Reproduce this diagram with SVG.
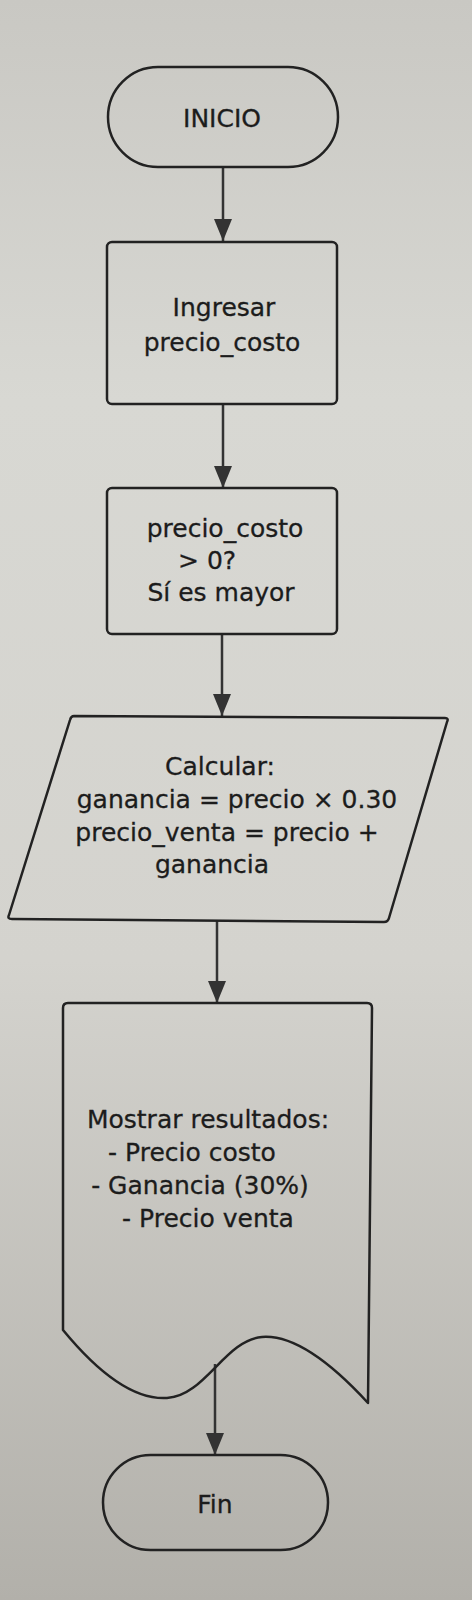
<svg xmlns="http://www.w3.org/2000/svg" width="472" height="1600" viewBox="0 0 472 1600">
<defs>
<linearGradient id="bg" x1="0" y1="0" x2="0" y2="1">
<stop offset="0" stop-color="#c9c8c3"/>
<stop offset="0.25" stop-color="#d8d8d3"/>
<stop offset="0.6" stop-color="#d4d3ce"/>
<stop offset="1" stop-color="#b2b0aa"/>
</linearGradient>
<marker id="arr" viewBox="0 0 22 18" refX="22" refY="9" markerWidth="22" markerHeight="18" markerUnits="userSpaceOnUse" orient="auto">
<path d="M0,0 L22,9 L0,18 Z" fill="#333"/>
</marker>
<style>
.shape{fill:none;stroke:#222;stroke-width:2.5;stroke-linejoin:round}
.t{font-family:"DejaVu Sans","Liberation Sans",sans-serif;font-size:25px;fill:#1c1c1c;stroke:#1c1c1c;stroke-width:0.3;text-anchor:middle}
.c{stroke:#333;stroke-width:2.5;fill:none}
</style>
</defs>
<rect width="472" height="1600" fill="url(#bg)"/>
<g id="connectors">
<line class="c" x1="223" y1="167" x2="223" y2="241" marker-end="url(#arr)"/>
<line class="c" x1="223" y1="404" x2="223" y2="488" marker-end="url(#arr)"/>
<line class="c" x1="222" y1="634" x2="222" y2="716" marker-end="url(#arr)"/>
<line class="c" x1="217" y1="921" x2="217" y2="1003" marker-end="url(#arr)"/>
<line class="c" x1="215" y1="1364" x2="215" y2="1455" marker-end="url(#arr)"/>
</g>
<g id="inicio">
<rect class="shape" x="108" y="67" width="230" height="100" rx="50" ry="50"/>
<text class="t" x="222" y="127">INICIO</text>
</g>
<g id="ingresar">
<rect class="shape" x="107" y="242" width="230" height="162" rx="5"/>
<text class="t" x="224" y="316">Ingresar</text>
<text class="t" x="222" y="351">precio_costo</text>
</g>
<g id="condicion">
<rect class="shape" x="107" y="488" width="230" height="146" rx="5"/>
<text class="t" x="225" y="537">precio_costo</text>
<text class="t" x="178" y="569" style="text-anchor:start">&gt; 0?</text>
<text class="t" x="221" y="601">Sí es mayor</text>
</g>
<g id="calcular">
<path class="shape" d="M74,716 L445,718 Q449,718 447,722 L389,918 Q388,922 384,922 L12,919 Q7,919 9,915 L70,720 Q71,716 74,716 Z"/>
<text class="t" x="220" y="775">Calcular:</text>
<text class="t" x="237" y="808">ganancia = precio × 0.30</text>
<text class="t" x="227" y="841">precio_venta = precio +</text>
<text class="t" x="212" y="873">ganancia</text>
</g>
<g id="mostrar">
<path class="shape" d="M63,1330 L63,1008 Q63,1003 68,1003 L367,1003 Q372,1003 372,1008 L368,1403 C345,1378 300,1334 262,1337 C225,1340 205,1396 167,1398 C135,1400 100,1375 63,1330 Z"/>
<text class="t" x="208" y="1128">Mostrar resultados:</text>
<text class="t" x="192" y="1161">- Precio costo</text>
<text class="t" x="200" y="1194">- Ganancia (30%)</text>
<text class="t" x="208" y="1227">- Precio venta</text>
</g>
<g id="fin">
<rect class="shape" x="103" y="1455" width="225" height="95" rx="47.5" ry="47.5"/>
<text class="t" x="215" y="1513">Fin</text>
</g>
</svg>
